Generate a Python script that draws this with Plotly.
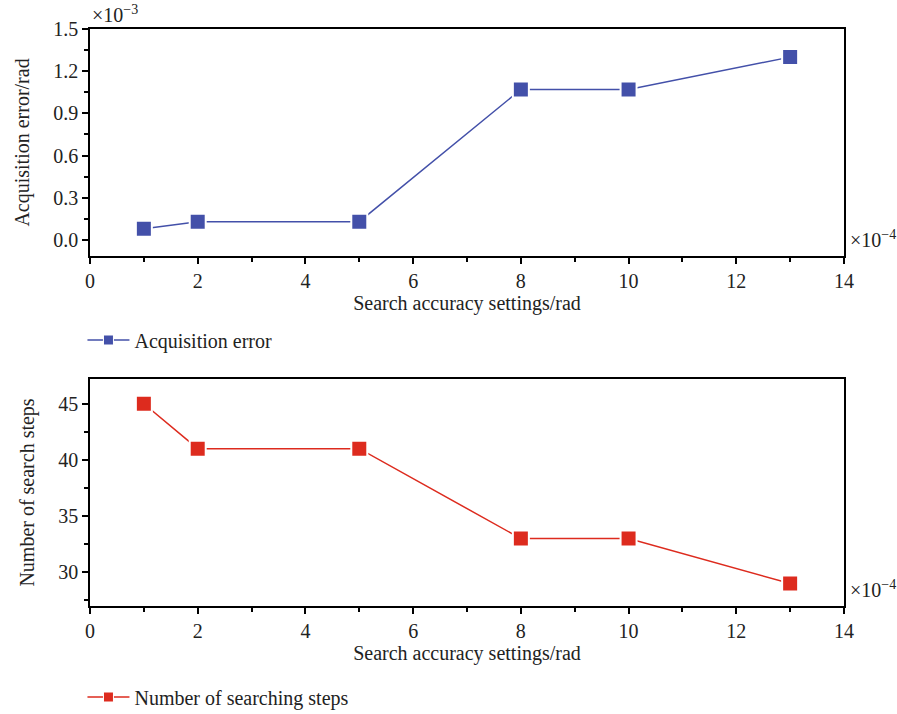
import plotly.graph_objects as go

accuracy = [1, 2, 5, 8, 10, 13]
acq_error = [0.08, 0.13, 0.13, 1.07, 1.07, 1.30]
search_steps = [45, 41, 41, 33, 33, 29]

x_ticks = [0, 2, 4, 6, 8, 10, 12, 14]
y1_ticks = [0.0, 0.3, 0.6, 0.9, 1.2, 1.5]
y1_labels = ["0.0", "0.3", "0.6", "0.9", "1.2", "1.5"]
y2_ticks = [30, 35, 40, 45]

BLUE = "#4350A9"
RED = "#DD2B1E"
FONT = "Liberation Serif"
FS = 20
TXT = "#222"

fig = go.Figure()
fig.add_trace(go.Scatter(
    x=accuracy, y=acq_error, mode="lines+markers", name="Acquisition error",
    line=dict(color=BLUE, width=1.5), showlegend=False,
    marker=dict(symbol="square", size=16, color=BLUE, line=dict(color="white", width=2)),
    xaxis="x", yaxis="y"))
fig.add_trace(go.Scatter(
    x=accuracy, y=search_steps, mode="lines+markers", name="Number of searching steps",
    line=dict(color=RED, width=1.5), showlegend=False,
    marker=dict(symbol="square", size=16, color=RED, line=dict(color="white", width=2)),
    xaxis="x2", yaxis="y2"))
# legend entries (smaller symbols, as in the reference legend)
fig.add_trace(go.Scatter(
    x=[None], y=[None], mode="lines+markers", name="Acquisition error",
    line=dict(color=BLUE, width=1.5),
    marker=dict(symbol="square", size=10, color=BLUE, line=dict(color="white", width=1)),
    xaxis="x", yaxis="y", legend="legend"))
fig.add_trace(go.Scatter(
    x=[None], y=[None], mode="lines+markers", name="Number of searching steps",
    line=dict(color=RED, width=1.5),
    marker=dict(symbol="square", size=10, color=RED, line=dict(color="white", width=1)),
    xaxis="x2", yaxis="y2", legend="legend2"))

axcommon = dict(showline=True, linecolor="black", linewidth=1.5, mirror=True,
                ticks="outside", ticklen=6, tickwidth=1.5, tickcolor="black",
                showgrid=False, zeroline=False, automargin=False,
                tickfont=dict(family=FONT, size=FS, color=TXT))
xcommon = dict(axcommon, range=[0, 14], tickvals=x_ticks,
               minor=dict(dtick=1, tick0=0, ticks="outside", ticklen=4, tickwidth=1.5, tickcolor="black"),
               title=dict(text="Search accuracy settings/rad", font=dict(family=FONT, size=FS, color=TXT), standoff=0))

legcommon = dict(xanchor="left", yanchor="middle", itemwidth=42,
                 bgcolor="rgba(0,0,0,0)", font=dict(family=FONT, size=FS, color=TXT))

fig.update_layout(
    template="none",
    width=897, height=714,
    margin=dict(l=90, r=53, t=0, b=0, autoexpand=False),
    paper_bgcolor="white", plot_bgcolor="white",
    font=dict(family=FONT, size=FS, color=TXT),
    xaxis=dict(xcommon, domain=[0, 1], anchor="y"),
    yaxis=dict(axcommon, domain=[0.6415, 0.9594], anchor="x", range=[-0.114, 1.5],
               tickvals=y1_ticks, ticktext=y1_labels,
               minor=dict(dtick=0.15, tick0=0, ticks="outside", ticklen=4, tickwidth=1.5, tickcolor="black"),
               title=dict(text="Acquisition error/rad", font=dict(family=FONT, size=FS, color=TXT), standoff=18)),
    xaxis2=dict(xcommon, domain=[0, 1], anchor="y2"),
    yaxis2=dict(axcommon, domain=[0.1513, 0.4692], anchor="x2", range=[27, 47.2],
                tickvals=y2_ticks,
                minor=dict(dtick=2.5, tick0=0, ticks="outside", ticklen=4, tickwidth=1.5, tickcolor="black"),
                title=dict(text="Number of search steps", font=dict(family=FONT, size=FS, color=TXT), standoff=18)),
    legend=dict(legcommon, x=-0.01, y=0.5238),
    legend2=dict(legcommon, x=-0.01, y=0.0238),
    showlegend=True,
)

fig.add_annotation(text="×10<sup>−3</sup>", xref="paper", yref="paper", x=0.0, y=1.0,
                   xanchor="left", yanchor="top", showarrow=False,
                   font=dict(family=FONT, size=20, color=TXT))
fig.add_annotation(text="×10<sup>−4</sup>", xref="paper", yref="paper", x=1.005, y=0.6415 + 0.004,
                   xanchor="left", yanchor="bottom", showarrow=False,
                   font=dict(family=FONT, size=20, color=TXT))
fig.add_annotation(text="×10<sup>−4</sup>", xref="paper", yref="paper", x=1.005, y=0.1513 + 0.004,
                   xanchor="left", yanchor="bottom", showarrow=False,
                   font=dict(family=FONT, size=20, color=TXT))

fig.write_html("out.html")
